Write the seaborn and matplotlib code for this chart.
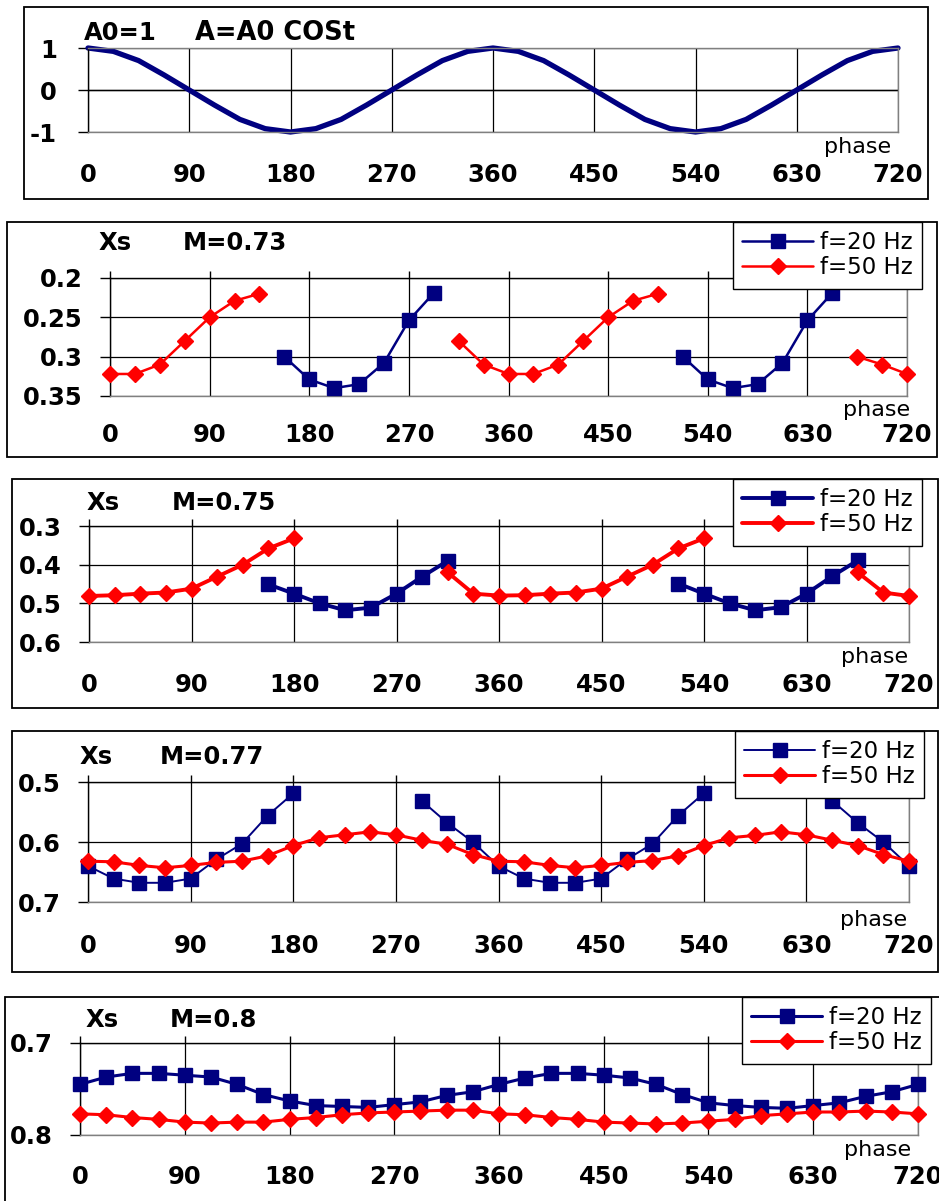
import numpy as np
import pandas as pd
import matplotlib
matplotlib.use("Agg")
import matplotlib.pyplot as plt
import seaborn as sns
from matplotlib.patches import Rectangle

nan = np.nan

# ---------------- data ----------------
phase = [0, 22.5, 45, 67.5, 90, 112.5, 135, 157.5, 180, 202.5, 225, 247.5, 270,
         292.5, 315, 337.5, 360, 382.5, 405, 427.5, 450, 472.5, 495, 517.5, 540,
         562.5, 585, 607.5, 630, 652.5, 675, 697.5, 720]
x_ticks = [0, 90, 180, 270, 360, 450, 540, 630, 720]

amp_A = [1, 0.92, 0.70, 0.36, 0, -0.36, -0.70, -0.92, -1, -0.92, -0.70, -0.36, 0,
         0.36, 0.70, 0.92, 1, 0.92, 0.70, 0.36, 0, -0.36, -0.70, -0.92, -1,
         -0.92, -0.70, -0.36, 0, 0.36, 0.70, 0.92, 1]

xs073_20 = [nan, nan, nan, nan, nan, nan, nan,
            0.300, 0.329, 0.340, 0.335, 0.308, 0.254, 0.219,
            nan, nan, nan, nan, nan, nan, nan, nan, nan,
            0.300, 0.329, 0.340, 0.335, 0.308, 0.254, 0.219,
            nan, nan, nan]
xs073_50 = [0.322, 0.322, 0.310, 0.280, 0.250, 0.229, 0.220,
            nan, nan, nan, nan, nan, nan, nan,
            0.280, 0.310, 0.322, 0.322, 0.310, 0.280, 0.250, 0.229, 0.220,
            nan, nan, nan, nan, nan, nan, nan,
            0.300, 0.310, 0.322]

xs075_20 = [nan, nan, nan, nan, nan, nan, nan,
            0.451, 0.475, 0.500, 0.518, 0.511, 0.475, 0.431, 0.390,
            nan, nan, nan, nan, nan, nan, nan, nan,
            0.449, 0.475, 0.500, 0.518, 0.510, 0.475, 0.430, 0.389,
            nan, nan]
xs075_50 = [0.481, 0.479, 0.475, 0.472, 0.462, 0.431, 0.400, 0.358, 0.332,
            nan, nan, nan, nan, nan,
            0.420, 0.475, 0.480, 0.479, 0.475, 0.472, 0.462, 0.431, 0.400, 0.358, 0.332,
            nan, nan, nan, nan, nan,
            0.420, 0.472, 0.481]

xs077_20 = [0.640, 0.661, 0.668, 0.668, 0.661, 0.629, 0.603, 0.556, 0.519,
            nan, nan, nan, nan,
            0.531, 0.568, 0.600, 0.640, 0.661, 0.668, 0.668, 0.661, 0.629, 0.603, 0.556, 0.519,
            nan, nan, nan, nan,
            0.531, 0.568, 0.600, 0.640]
xs077_50 = [0.632, 0.633, 0.639, 0.643, 0.639, 0.634, 0.632, 0.623, 0.606, 0.593,
            0.588, 0.583, 0.588, 0.597, 0.604, 0.621, 0.632, 0.633, 0.639, 0.643,
            0.639, 0.634, 0.631, 0.623, 0.606, 0.593, 0.589, 0.583, 0.588, 0.597,
            0.606, 0.621, 0.632]

xs080_20 = [0.745, 0.737, 0.733, 0.733, 0.735, 0.737, 0.745, 0.756, 0.763, 0.768,
            0.769, 0.770, 0.767, 0.764, 0.757, 0.753, 0.745, 0.738, 0.733, 0.733,
            0.735, 0.738, 0.745, 0.756, 0.765, 0.768, 0.770, 0.771, 0.768, 0.765,
            0.758, 0.753, 0.745]
xs080_50 = [0.777, 0.778, 0.781, 0.783, 0.786, 0.787, 0.786, 0.786, 0.783, 0.781,
            0.778, 0.776, 0.775, 0.774, 0.773, 0.773, 0.777, 0.778, 0.781, 0.783,
            0.786, 0.787, 0.788, 0.787, 0.785, 0.783, 0.779, 0.777, 0.775, 0.775,
            0.774, 0.775, 0.777]

series_labels = ["f=20 Hz", "f=50 Hz"]
m_titles = ["M=0.73", "M=0.75", "M=0.77", "M=0.8"]
y_ticks_list = [[0.2, 0.25, 0.3, 0.35], [0.3, 0.4, 0.5, 0.6], [0.5, 0.6, 0.7], [0.7, 0.8]]
y_ticklabels_list = [["0.2", "0.25", "0.3", "0.35"], ["0.3", "0.4", "0.5", "0.6"],
                     ["0.5", "0.6", "0.7"], ["0.7", "0.8"]]

# ---------------- style ----------------
sns.set_style("white")
plt.rcParams["font.family"] = ["DejaVu Sans"]
plt.rcParams["font.weight"] = "bold"
plt.rcParams["text.color"] = "black"
plt.rcParams["axes.labelcolor"] = "black"
plt.rcParams["xtick.color"] = "black"
plt.rcParams["ytick.color"] = "black"

W, H = 939, 1201
DPI = 100
fig = plt.figure(figsize=(W / DPI, H / DPI), dpi=DPI)
fig.patch.set_facecolor("white")

NAVY = "#000080"
RED = "#FF0000"
GRAY = "#808080"
TICK_FS = 17.5
PT = 72.0 / DPI


def add_ax(l, r, t, b):
    return fig.add_axes([l / W, 1 - b / H, (r - l) / W, (b - t) / H])


def box(l, r, t, b):
    fig.add_artist(Rectangle((l / W, 1 - b / H), (r - l) / W, (b - t) / H,
                             transform=fig.transFigure, fill=False,
                             ec="black", lw=1.3, zorder=10))


def ftext(x, y, s, ha="left", size=17.5, weight="bold"):
    fig.text(x / W, 1 - y / H, s, ha=ha, va="center", fontsize=size,
             fontweight=weight, color="black")


def segments(vals):
    df = pd.DataFrame({"phase": phase, "val": vals})
    ok = df["val"].notna()
    df["seg"] = (ok != ok.shift()).cumsum()
    return [g for _, g in df[ok].groupby("seg")]


def style_axes(ax, l, r, t, b, label_center_px, phase_xy, top_axis=True, ylab_pad_px=17):
    ax.set_xlim(0, 720)
    ax.set_xticks(x_ticks)
    ax.set_xticklabels([str(v) for v in x_ticks])
    ax.grid(True, color="black", lw=0.9)
    ax.set_axisbelow(True)
    for s in ["left", "right", "top", "bottom"]:
        ax.spines[s].set_visible(True)
        ax.spines[s].set_linewidth(1.0)
    ax.spines["left"].set_color("black")
    ax.spines["right"].set_color(GRAY)
    ax.spines["bottom"].set_color(GRAY)
    ax.spines["top"].set_color("black" if top_axis else GRAY)
    tick_len_px = 7
    fs_px = TICK_FS / PT
    pad_px = label_center_px - 0.56 * fs_px - tick_len_px
    ax.tick_params(axis="x", bottom=False, top=top_axis, labelbottom=True, labeltop=False,
                   direction="out", length=tick_len_px * PT, width=1, color="black",
                   pad=pad_px * PT, labelsize=TICK_FS, labelcolor="black")
    ax.tick_params(axis="y", left=True, direction="out", length=10 * PT, width=1,
                   color="black", pad=ylab_pad_px * PT, labelsize=TICK_FS,
                   labelcolor="black")
    ax.set_ylabel("")
    ax.set_xlabel("phase", fontsize=16, fontweight="normal", color="black")
    ax.xaxis.set_label_coords((phase_xy[0] - l) / (r - l), (b - phase_xy[1]) / (b - t))
    ax.xaxis.label.set_va("center")
    ax.xaxis.label.set_ha("center")


# ---------------- panel 1 ----------------
l, r, t, b = 88, 898, 48, 132
box(24, 928, 7, 199)
ax1 = add_ax(l, r, t, b)
sns.lineplot(x=phase, y=amp_A, ax=ax1, color=NAVY, lw=3.8, clip_on=False)
ax1.set_ylim(-1, 1)
ax1.set_yticks([-1, 0, 1])
ax1.set_yticklabels(["-1", "0", "1"])
style_axes(ax1, l, r, t, b, 45, (858, 147), top_axis=False, ylab_pad_px=21)
ax1.spines["top"].set_color(GRAY)
ax1.axhline(0, color="black", lw=1.0, zorder=1)
ftext(84, 33, "A0=1")
ftext(195, 33, "A=A0 COSt", size=18.5)

# ---------------- Xs panels ----------------
panels = [
    dict(data=(xs073_20, xs073_50), ax=(110, 907, 278, 396), boxp=(7, 937, 222, 457),
         ylim=(0.35, 0.2), lab=41, ph=(877, 410), xs=(115, 243), m=183,
         leg=(733, 222), lw=(1.8, 1.8), ms=(10.5, 8.6)),
    dict(data=(xs075_20, xs075_50), ax=(89, 909, 526, 642), boxp=(12, 938, 479, 708),
         ylim=(0.6, 0.3), lab=45, ph=(875, 657), xs=(103, 503), m=172,
         leg=(733, 479), lw=(2.8, 2.8), ms=(10.5, 8.6)),
    dict(data=(xs077_20, xs077_50), ax=(88, 909, 782, 902), boxp=(12, 938, 731, 972),
         ylim=(0.7, 0.5), lab=46, ph=(874, 920), xs=(96, 757), m=160,
         leg=(735, 731), lw=(1.4, 2.2), ms=(10.5, 8.6)),
    dict(data=(xs080_20, xs080_50), ax=(80, 918, 1043, 1135), boxp=(5, 960, 997, 1230),
         ylim=(0.8, 0.7), lab=44, ph=(878, 1150), xs=(102, 1020), m=170,
         leg=(742, 997), lw=(2.2, 2.2), ms=(9.8, 8.3)),
]

for i, p in enumerate(panels):
    l, r, t, b = p["ax"]
    box(*p["boxp"])
    ax = add_ax(l, r, t, b)
    colors = (NAVY, RED)
    markers = ("s", "D")
    for k in range(2):
        for j, seg in enumerate(segments(p["data"][k])):
            sns.lineplot(data=seg, x="phase", y="val", ax=ax, color=colors[k],
                         lw=p["lw"][k], marker=markers[k], markersize=p["ms"][k],
                         markeredgecolor=colors[k], markeredgewidth=1.0,
                         clip_on=False, zorder=3 + k,
                         label=series_labels[k] if j == 0 else "_nolegend_")
    ax.set_ylim(*p["ylim"])
    ax.set_yticks(y_ticks_list[i])
    ax.set_yticklabels(y_ticklabels_list[i])
    style_axes(ax, l, r, t, b, p["lab"], p["ph"], top_axis=True)
    handles, labels = ax.get_legend_handles_labels()
    leg = ax.legend(handles, labels, loc="upper left",
                    bbox_to_anchor=(p["leg"][0] / W, 1 - p["leg"][1] / H),
                    bbox_transform=fig.transFigure, borderaxespad=0,
                    frameon=True, fancybox=False, framealpha=1, edgecolor="black",
                    prop={"size": 16.5, "weight": "normal"}, handlelength=3.1,
                    handletextpad=0.3, labelspacing=0.1, borderpad=0.4)
    leg.get_frame().set_linewidth(1.0)
    leg.set_zorder(20)
    for txt in leg.get_texts():
        txt.set_color("black")
    ftext(p["xs"][0], p["xs"][1], "Xs", ha="center")
    ftext(p["m"], p["xs"][1], m_titles[i])

fig.savefig("out.png", dpi=DPI)
